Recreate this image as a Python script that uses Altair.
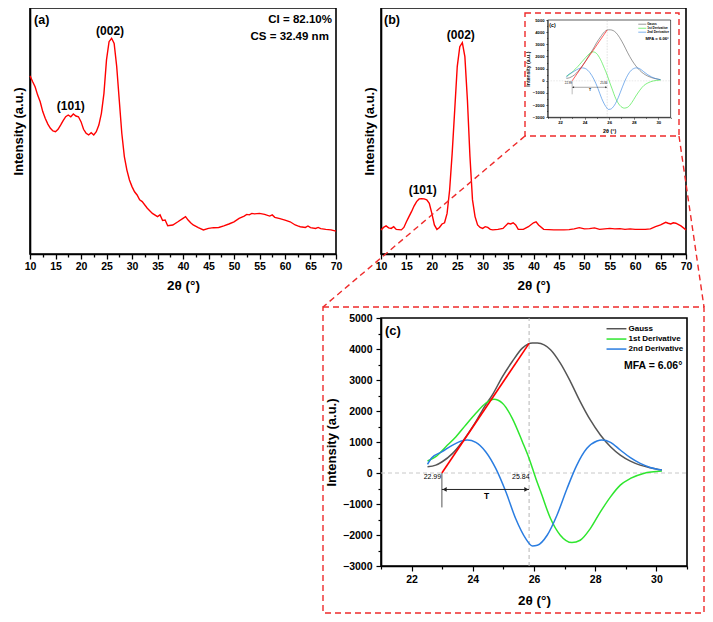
import altair as alt
import pandas as pd

# ---------------- data ----------------
a_theta = [10, 10.5, 11, 11.5, 12, 12.5, 13, 13.5, 14, 14.5, 15, 15.5, 16, 16.5, 17, 17.5, 18, 18.5, 19, 19.5,
           20, 20.5, 21, 21.5, 22, 22.5, 23, 23.5, 24, 24.5, 25, 25.5, 26, 26.5, 27, 27.5, 28, 28.5, 29, 29.5,
           30, 30.5, 31, 31.5, 32, 33, 34, 35, 35.5, 36, 36.5, 37, 38, 39, 40, 40.5, 41, 41.5, 42, 43, 44, 45,
           46, 47, 48, 49, 50, 51, 52, 52.5, 53, 53.5, 54, 55, 56, 57, 57.5, 58, 59, 60, 61, 62, 62.5, 63, 64,
           64.5, 65, 66, 66.5, 67, 68, 69, 70]
a_int = [72.4, 70.1, 68.0, 64.6, 61.9, 57.9, 55.1, 52.8, 51.1, 50.0, 49.7, 50.7, 52.4, 54.2, 55.8, 56.5, 55.8, 56.9, 56.1, 55.8,
         53.8, 50.7, 49.1, 48.4, 49.3, 48.4, 49.7, 52.4, 57.2, 65.3, 78.9, 86.3, 87.7, 85.6, 76.2, 62.6, 49.1, 39.6, 34.1, 30.1,
         27.4, 25.3, 24.0, 22.0, 21.3, 18.6, 16.5, 15.2, 15.9, 13.6, 13.8, 11.5, 11.8, 13.1, 14.5, 15.2, 13.8, 12.7, 11.8, 10.7, 9.8, 10.4,
         10.7, 10.8, 11.4, 12.2, 13.1, 14.5, 15.4, 16.1, 15.9, 16.5, 16.3, 16.5, 16.1, 15.4, 15.9, 14.9, 14.4, 13.8, 13.1, 11.8, 11.4, 11.1, 10.8,
         11.4, 10.7, 10.4, 10.8, 10.3, 10.0, 9.8, 9.3]

b_theta = [10, 10.5, 11, 11.5, 12, 12.5, 13, 13.5, 14, 14.5, 15, 15.5, 16, 16.5, 17, 17.5, 18, 18.5, 19, 19.5,
           20, 20.5, 21, 21.5, 22, 22.5, 23, 23.5, 24, 24.5, 25, 25.5, 26, 26.5, 27, 27.5, 28, 28.5, 29, 29.5,
           30, 30.5, 31, 31.5, 32, 33, 34, 35, 35.5, 36, 36.5, 37, 38, 39, 40, 40.5, 41, 42, 43, 44, 45, 46, 47,
           48, 49, 50, 51, 52, 53, 54, 55, 56, 57, 58, 59, 60, 61, 62, 63, 64, 65, 66, 66.5, 67, 67.5, 68, 69, 70]
b_int = [9.8, 10.8, 11.4, 10.6, 10.4, 11.1, 10.0, 9.9, 9.8, 10.8, 13.1, 15.2, 17.2, 19.5, 21.3, 22.4, 22.5, 22.4, 22.0, 20.6,
         16.5, 11.8, 10.0, 10.8, 12.2, 12.7, 16.5, 26.0, 40.9, 58.5, 76.2, 84.3, 85.9, 80.2, 62.6, 39.6, 22.0, 15.2, 11.8, 10.8,
         10.4, 11.1, 10.8, 10.0, 9.8, 10.0, 10.4, 12.5, 12.2, 12.7, 11.8, 10.0, 10.0, 11.1, 12.7, 13.1, 11.8, 10.0, 9.9, 9.8, 9.8, 9.8, 9.9,
         10.2, 10.7, 10.2, 10.3, 10.6, 10.0, 10.2, 10.4, 10.2, 10.3, 10.0, 10.2, 10.0, 10.0, 10.0, 10.2, 11.1, 11.8, 12.9, 12.5, 12.2, 12.7, 12.5, 11.4, 9.8]

gauss_theta = [22.52, 22.79, 23.0, 23.34, 23.66, 24.1, 24.42, 24.64, 24.97, 25.29, 25.62, 25.95, 26.11, 26.54, 26.86,
               27.19, 27.51, 27.84, 28.17, 28.5, 28.82, 29.15, 29.47, 29.8, 30.18]
gauss_int = [200, 255, 363, 633, 1010, 1657, 2196, 2519, 3112, 3597, 4028, 4195, 4190, 3975, 3543,
             2950, 2304, 1711, 1226, 848, 579, 385, 255, 169, 94]

d1_theta = [22.52, 22.79, 23.12, 23.45, 23.77, 24.1, 24.42, 24.69, 24.97, 25.29, 25.62, 25.84, 26.06, 26.22, 26.54,
            26.86, 27.24, 27.51, 27.84, 28.17, 28.5, 28.82, 29.15, 29.58, 30.18]
d1_int = [385, 525, 848, 1172, 1549, 1926, 2250, 2379, 2250, 1765, 1010, 470, -175, -607, -1469,
          -2008, -2245, -2170, -1793, -1254, -769, -391, -176, -14, 61]

d2_theta = [22.52, 22.66, 23.0, 23.34, 23.66, 23.82, 24.1, 24.42, 24.75, 25.08, 25.4, 25.73, 25.95, 26.11, 26.43,
            26.75, 27.08, 27.4, 27.73, 28.06, 28.22, 28.5, 28.82, 29.15, 29.47, 29.8, 30.18]
d2_int = [280, 490, 687, 902, 1042, 1063, 989, 687, 148, -607, -1469, -2116, -2353, -2330, -2008,
          -1362, -499, 255, 795, 1032, 1063, 989, 741, 493, 309, 180, 94]

tangent_theta = [22.99, 25.84]
tangent_int = [0, 4180]
onset_theta = 22.99
peak_theta = 25.84
mfa_text = "MFA = 6.06°"

series_names = ["Gauss", "1st Derivative", "2nd Derivative"]
series_colors = ["#555555", "#2ee62e", "#2a7de1"]

xrd_ticks = [10, 12.5, 15, 17.5, 20, 22.5, 25, 27.5, 30, 32.5, 35, 37.5, 40, 42.5, 45, 47.5, 50, 52.5,
             55, 57.5, 60, 62.5, 65, 67.5, 70]
c_xticks = [21, 22, 23, 24, 25, 26, 27, 28, 29, 30, 31]
c_yticks = [-3000, -2500, -2000, -1500, -1000, -500, 0, 500, 1000, 1500, 2000, 2500, 3000, 3500, 4000, 4500, 5000]

# ---------------- layout ----------------
W, H = 697, 606
FONT = "Liberation Sans"
RED = "#ff0000"
DRED = "#ee2a2a"


def text_layer(rows, X, Y, size, align, weight="bold"):
    df = pd.DataFrame(rows, columns=["lab", "px", "py"])
    return alt.Chart(df).mark_text(font=FONT, fontSize=size, fontWeight=weight, align=align,
                                   baseline="middle", color="black").encode(
        x=X("px"), y=Y("py"), text="lab:N")


def xrd_panel(theta, inten, xr, yoff_bottom, xoff_left, labels_left, labels_center, labels_right):
    xs = alt.Scale(domain=[10, 70], range=xr, nice=False, zero=False)
    ys = alt.Scale(domain=[0, 100], range=[246, 0], nice=False, zero=False)
    ax_x = alt.Axis(orient="bottom", offset=yoff_bottom, values=xrd_ticks,
                    labelExpr="datum.value % 5 == 0 ? datum.label : ''", format="d",
                    tickSize={"condition": {"test": "datum.value % 5 == 0", "value": 5}, "value": 3},
                    tickWidth=1.3, tickColor="black", domainColor="black", domainWidth=1.6,
                    labelFont=FONT, labelFontSize=10.5, labelFontWeight="bold", labelColor="black",
                    labelPadding=2, labelFlush=False, labelOverlap=False,
                    title="2θ (°)", titleFont=FONT, titleFontSize=13.5, titleFontWeight="bold",
                    titleColor="black", titlePadding=7, grid=False)
    ax_y = alt.Axis(orient="left", offset=xoff_left, labels=False, ticks=False, domainColor="black",
                    domainWidth=1.6, title="Intensity (a.u.)", titleFont=FONT, titleFontSize=13,
                    titleFontWeight="bold", titleColor="black", titlePadding=5, grid=False)

    def X(f):
        return alt.X(f, type="quantitative", scale=xs, axis=ax_x)

    def Y(f):
        return alt.Y(f, type="quantitative", scale=ys, axis=ax_y)

    df = pd.DataFrame({"t": theta, "v": inten})
    line = alt.Chart(df).mark_line(color=RED, strokeWidth=1.4).encode(x=X("t"), y=Y("v"))
    frame = alt.Chart(pd.DataFrame({"t": [10], "t2": [70], "v": [0], "v2": [100]})).mark_rect(
        fillOpacity=0, stroke="black", strokeWidth=1.6).encode(
        x=X("t"), x2="t2:Q", y=Y("v"), y2="v2:Q")
    layers = [frame, line]
    if labels_left:
        layers.append(text_layer(labels_left, X, Y, 12.5, "left"))
    if labels_center:
        layers.append(text_layer(labels_center, X, Y, 12, "center"))
    if labels_right:
        layers.append(text_layer(labels_right, X, Y, 11.5, "right"))
    return alt.layer(*layers)


def c_panel(xr, yr, xoff, yoff, k):
    xs = alt.Scale(domain=[21, 31], range=xr, nice=False, zero=False)
    ys = alt.Scale(domain=[-3000, 5000], range=yr, nice=False, zero=False)
    common = dict(tickWidth=1.2 * k, tickColor="black", domainColor="black", domainWidth=1.6 * k,
                  labelFont=FONT, labelFontSize=10.5 * k, labelFontWeight="bold", labelColor="black",
                  labelFlush=False, labelOverlap=False, titleFont=FONT, titleFontWeight="bold",
                  titleColor="black", grid=False, format="d")
    ax_x = alt.Axis(orient="bottom", offset=xoff, values=c_xticks,
                    labelExpr="datum.value % 2 == 0 && datum.value > 21 && datum.value < 31 ? datum.label : ''",
                    tickSize={"condition": {"test": "datum.value % 2 == 0", "value": 5 * k}, "value": 3 * k},
                    labelPadding=3 * k, title="2θ (°)", titleFontSize=13.5 * k, titlePadding=9 * k, **common)
    ax_y = alt.Axis(orient="left", offset=yoff, values=c_yticks,
                    labelExpr="datum.value % 1000 == 0 ? datum.label : ''",
                    tickSize={"condition": {"test": "datum.value % 1000 == 0", "value": 5 * k}, "value": 3 * k},
                    labelPadding=4 * k, title="Intensity (a.u.)", titleFontSize=13 * k, titlePadding=4 * k, **common)

    def X(f):
        return alt.X(f, type="quantitative", scale=xs, axis=ax_x)

    def Y(f):
        return alt.Y(f, type="quantitative", scale=ys, axis=ax_y)

    frame = alt.Chart(pd.DataFrame({"t": [21], "t2": [31], "v": [-3000], "v2": [5000]})).mark_rect(
        fillOpacity=0, stroke="black", strokeWidth=1.6 * k).encode(
        x=X("t"), x2="t2:Q", y=Y("v"), y2="v2:Q")
    vdash = alt.Chart(pd.DataFrame({"t": [peak_theta], "v": [-3000], "v2": [5000]})).mark_rule(
        color="#b5b5b5", strokeDash=[4 * k, 3 * k], strokeWidth=1 * k).encode(x=X("t"), y=Y("v"), y2="v2:Q")
    hdash = alt.Chart(pd.DataFrame({"t": [21], "t2": [31], "v": [0]})).mark_rule(
        color="#c8c8c8", strokeDash=[4 * k, 3 * k], strokeWidth=1 * k).encode(x=X("t"), x2="t2:Q", y=Y("v"))
    layers = [frame, vdash, hdash]
    for name, col, th, iv in zip(series_names, series_colors,
                                 [gauss_theta, d1_theta, d2_theta], [gauss_int, d1_int, d2_int]):
        df = pd.DataFrame({"t": th, "v": iv})
        layers.append(alt.Chart(df).mark_line(color=col, strokeWidth=1.5 * k, interpolate="monotone").encode(
            x=X("t"), y=Y("v")))
    tan = alt.Chart(pd.DataFrame({"t": tangent_theta, "v": tangent_int})).mark_line(
        color=RED, strokeWidth=1.6 * k).encode(x=X("t"), y=Y("v"))
    layers.append(tan)
    # onset marker line and T arrow
    vline = alt.Chart(pd.DataFrame({"t": [onset_theta], "v": [0], "v2": [-1110]})).mark_rule(
        color="#555555", strokeWidth=1 * k).encode(x=X("t"), y=Y("v"), y2="v2:Q")
    arrow = alt.Chart(pd.DataFrame({"t": [onset_theta], "t2": [peak_theta], "v": [-531]})).mark_rule(
        color="#222222", strokeWidth=1 * k).encode(x=X("t"), x2="t2:Q", y=Y("v"))
    heads = alt.Chart(pd.DataFrame({"t": [onset_theta + 0.09], "v": [-531]})).mark_point(
        shape="triangle-left", filled=True, color="#222222", size=22 * k * k, opacity=1).encode(x=X("t"), y=Y("v"))
    headr = alt.Chart(pd.DataFrame({"t": [peak_theta - 0.09], "v": [-531]})).mark_point(
        shape="triangle-right", filled=True, color="#222222", size=22 * k * k, opacity=1).encode(x=X("t"), y=Y("v"))
    layers += [vline, arrow, heads, headr]
    # legend
    leg = pd.DataFrame({"name": series_names, "v": [4654, 4321, 3998],
                        "t": [28.37] * 3, "t2": [29.02] * 3, "tx": [29.09] * 3})
    layers.append(alt.Chart(leg).mark_rule(strokeWidth=1.5 * k).encode(
        x=X("t"), x2="t2:Q", y=Y("v"),
        color=alt.Color("name:N", scale=alt.Scale(domain=series_names, range=series_colors), legend=None)))
    layers.append(alt.Chart(leg).mark_text(font=FONT, fontSize=8 * k, fontWeight="bold", align="left",
                                           baseline="middle", color="black").encode(
        x=X("tx"), y=Y("v"), text="name:N"))
    layers.append(text_layer([("(c)", 21.13, 4589)], X, Y, 13 * k, "left"))
    layers.append(text_layer([(mfa_text, 30.85, 3457)], X, Y, 10.5 * k, "right"))
    layers.append(text_layer([(f"{onset_theta:.2f}", 22.68, -143), (f"{peak_theta:.2f}", 25.57, -143)],
                             X, Y, 7 * k, "center", weight="normal"))
    layers.append(text_layer([("T", 24.45, -737)], X, Y, 8.5 * k, "center", weight="bold"))
    return alt.layer(*layers)


panel_a = xrd_panel(a_theta, a_int, [22, 328], -360, -22,
                    [("(a)", 10.8, 95.1)],
                    [("(002)", 25.7, 90.7), ("(101)", 18.0, 60.2)],
                    [("CI = 82.10%", 69.2, 95.1), ("CS = 32.49 nm", 68.6, 88.4)])
panel_b = xrd_panel(b_theta, b_int, [373, 678], -360, -373,
                    [("(b)", 10.6, 95.1)],
                    [("(002)", 25.7, 89.0), ("(101)", 18.2, 26.0)],
                    None)
inset = c_panel([539.7, 662.6], [109.3, 12.0], 109.3 - H, -539.7, 0.4)
panel_c = c_panel([373, 679], [558, 310], 558 - H, -373, 1.0)

# decorative dashed connectors (pixel positions on the canvas)
one = pd.DataFrame({"d": [0]})
deco_box1 = alt.Chart(one).mark_rect(fillOpacity=0, stroke=DRED, strokeWidth=1.4, strokeDash=[6, 4]).encode(
    x=alt.value(517), x2=alt.value(671), y=alt.value(5), y2=alt.value(128))
deco_box2 = alt.Chart(one).mark_rect(fillOpacity=0, stroke=DRED, strokeWidth=1.4, strokeDash=[6, 4]).encode(
    x=alt.value(315), x2=alt.value(696), y=alt.value(299), y2=alt.value(605))
deco_l = alt.Chart(one).mark_rule(stroke=DRED, strokeWidth=1.4, strokeDash=[6, 4]).encode(
    x=alt.value(517), y=alt.value(128), x2=alt.value(315), y2=alt.value(299))
deco_r = alt.Chart(one).mark_rule(stroke=DRED, strokeWidth=1.4, strokeDash=[6, 4]).encode(
    x=alt.value(671), y=alt.value(128), x2=alt.value(696), y2=alt.value(299))
deco = alt.layer(deco_box1, deco_box2, deco_l, deco_r)

chart = alt.layer(panel_a, panel_b, inset, panel_c, deco).resolve_scale(
    x="independent", y="independent").properties(
    width=W, height=H, padding=0, autosize=alt.AutoSizeParams(type="none"),
    background="white").configure_view(strokeOpacity=0)

chart.save("out.html", embed_options={"renderer": "svg", "actions": False})
